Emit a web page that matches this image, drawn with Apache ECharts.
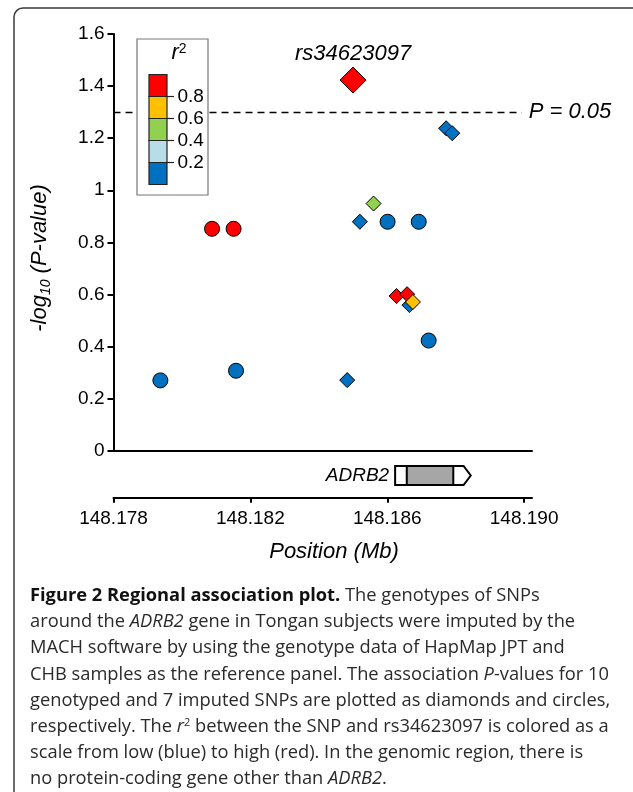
<!DOCTYPE html>
<html><head><meta charset="utf-8">
<script src="https://cdn.jsdelivr.net/npm/echarts@6/dist/echarts.min.js"></script>
<style>html,body{margin:0;padding:0;background:#fff}#c{width:633px;height:792px}</style>
</head><body><div id="c"></div><script>
// ---------- data ----------
const xTicks = [148.178, 148.182, 148.186, 148.190];
const xMin = 148.178, xMax = 148.19023;
const yMin = 0, yMax = 1.6, yStep = 0.2;

// genotyped SNPs (diamonds), in drawing order
const genoPos  = [148.18483, 148.18520, 148.18665, 148.18772, 148.18790, 148.18560, 148.18627, 148.18658, 148.18675, 148.18500];
const genoLogP = [0.271, 0.879, 0.559, 1.238, 1.219, 0.949, 0.594, 0.601, 0.571, 1.423];
const genoR2   = [0.05, 0.08, 0.10, 0.12, 0.10, 0.45, 0.85, 0.85, 0.70, 1.00];
const leadIndex = 9;
const leadName = 'rs34623097';

// imputed SNPs (circles)
const impPos  = [148.17937, 148.18088, 148.18151, 148.18158, 148.18601, 148.18692, 148.18721];
const impLogP = [0.270, 0.852, 0.852, 0.307, 0.879, 0.879, 0.423];
const impR2   = [0.05, 0.90, 0.90, 0.08, 0.10, 0.12, 0.06];

const pThreshold = 1.301;
const pThresholdEnd = 148.18993;
const pThresholdLabel = 'P = 0.05';

const r2Breaks = [0.8, 0.6, 0.4, 0.2];
const r2Colors = ['#FF0000', '#FFC000', '#92D050', '#B7DEE8', '#0070C0'];
const r2TickLabels = ['0.8', '0.6', '0.4', '0.2'];

const geneName = 'ADRB2';
const geneStart = 148.18623, cdsStart = 148.18657, cdsEnd = 148.18793, arrowBase = 148.18823, geneEnd = 148.18844;
const geneTop = 0.675, geneBottom = 0.27;

const captionLines = [
  '{b|Figure 2 Regional association plot.} The genotypes of SNPs',
  'around the {i|ADRB2} gene in Tongan subjects were imputed by the',
  'MACH software by using the genotype data of HapMap JPT and',
  'CHB samples as the reference panel. The association {i|P}-values for 10',
  'genotyped and 7 imputed SNPs are plotted as diamonds and circles,',
  'respectively. The {i|r}{sup|2} between the SNP and rs34623097 is colored as a',
  'scale from low (blue) to high (red). In the genomic region, there is',
  'no protein-coding gene other than {i|ADRB2}.'
];

// ---------- helpers ----------
function r2Color(v) {
  for (let i = 0; i < r2Breaks.length; i++) if (v >= r2Breaks[i]) return r2Colors[i];
  return r2Colors[r2Colors.length - 1];
}
const FONT = '"Liberation Sans", Arial, Helvetica, sans-serif';
const CAPFONT = '"Open Sans", "Noto Sans", sans-serif';
const CAPSIZE = 18.3;

const genoData = genoPos.map((x, i) => {
  const item = { value: [x, genoLogP[i]], itemStyle: { color: r2Color(genoR2[i]) } };
  if (i === leadIndex) {
    item.symbolSize = 26;
    item.label = { show: true, formatter: leadName, position: 'top', distance: 2,
      fontFamily: FONT, fontStyle: 'italic', fontSize: 22, color: '#000' };
  }
  return item;
});
const impData = impPos.map((x, i) => ({ value: [x, impLogP[i]], itemStyle: { color: r2Color(impR2[i]) } }));

// ---------- graphics: legend, titles, caption, frame ----------
const graphics = [];
graphics.push({ type: 'rect', shape: { x: 14, y: 8, width: 640, height: 800, r: [9, 9, 0, 0] },
  style: { fill: 'none', stroke: '#3a3a3a', lineWidth: 1.5 }, silent: true });

// legend
const lgX = 137, lgY = 39, lgW = 71, lgH = 156;
graphics.push({ type: 'rect', shape: { x: lgX, y: lgY, width: lgW, height: lgH },
  style: { fill: '#fff', stroke: '#777', lineWidth: 1.2 }, z: 10 });
graphics.push({ type: 'text', x: 179, y: 53, z: 11,
  style: { text: 'r{s|2}', align: 'center', verticalAlign: 'middle',
    fontFamily: FONT, fontStyle: 'italic', fontSize: 22, fill: '#000', lineHeight: 22,
    rich: { s: { fontFamily: FONT, fontStyle: 'normal', fontSize: 14, fill: '#000', verticalAlign: 'top', lineHeight: 14 } } } });
const barX = 149, barY = 74.5, barW = 18, segH = 22;
r2Colors.forEach((c, i) => {
  graphics.push({ type: 'rect', z: 11, shape: { x: barX, y: barY + i * segH, width: barW, height: segH },
    style: { fill: c, stroke: '#222', lineWidth: 1.2 } });
});
r2TickLabels.forEach((t, i) => {
  const yy = barY + (i + 1) * segH;
  graphics.push({ type: 'line', z: 11, shape: { x1: barX + barW, y1: yy, x2: barX + barW + 7, y2: yy },
    style: { stroke: '#222', lineWidth: 1.2 } });
  graphics.push({ type: 'text', z: 11, x: 177.5, y: yy + 0.5,
    style: { text: t, fontFamily: FONT, fontSize: 19, fill: '#000', align: 'left', verticalAlign: 'middle' } });
});

// axis titles
graphics.push({ type: 'text', x: 40, y: 258, rotation: Math.PI / 2,
  style: { text: '-log{s|10} (P-value)', align: 'center', verticalAlign: 'middle',
    fontFamily: FONT, fontStyle: 'italic', fontSize: 22, fill: '#000', lineHeight: 26,
    rich: { s: { fontFamily: FONT, fontStyle: 'italic', fontSize: 14, verticalAlign: 'bottom', lineHeight: 14, fill: '#000' } } } });
graphics.push({ type: 'text', x: 334, y: 552,
  style: { text: 'Position (Mb)', align: 'center', verticalAlign: 'middle',
    fontFamily: FONT, fontStyle: 'italic', fontSize: 22, fill: '#000' } });

// caption
captionLines.forEach((ln, i) => {
  graphics.push({ type: 'text', x: 30, y: 596 + i * 26.1,
    style: { text: ln, align: 'left', verticalAlign: 'middle', fontFamily: CAPFONT, fontSize: CAPSIZE, fill: '#2a2a2a',
      rich: {
        b: { fontFamily: CAPFONT, fontWeight: 'bold', fontSize: CAPSIZE, fill: '#111' },
        i: { fontFamily: CAPFONT, fontStyle: 'italic', fontSize: CAPSIZE, fill: '#2a2a2a' },
        sup: { fontFamily: CAPFONT, fontSize: 11, verticalAlign: 'top', lineHeight: 11, fill: '#2a2a2a' }
      } } });
});

// ---------- chart ----------
const chart = echarts.init(document.getElementById('c'), null, { renderer: 'canvas' });
const gridLeft = 113.5, gridRight = 633 - 532;
chart.setOption({
  animation: false,
  backgroundColor: '#fff',
  grid: [
    { left: gridLeft, right: gridRight, top: 34, bottom: 792 - 450.7 },
    { left: gridLeft, right: gridRight, top: 450.7, bottom: 792 - 497.7 }
  ],
  xAxis: [
    { gridIndex: 0, type: 'value', min: xMin, max: xMax, position: 'bottom',
      axisLine: { show: true, onZero: false, lineStyle: { color: '#000', width: 2 } },
      axisTick: { show: false }, axisLabel: { show: false }, splitLine: { show: false } },
    { gridIndex: 1, type: 'value', min: xMin, max: xMax, position: 'bottom',
      axisLine: { show: true, onZero: false, lineStyle: { color: '#000', width: 2 } },
      axisTick: { show: true, customValues: xTicks, length: 5, lineStyle: { color: '#000', width: 2 } },
      axisLabel: { show: true, customValues: xTicks, formatter: v => v.toFixed(3), margin: 12,
        fontFamily: FONT, fontSize: 19, color: '#000' },
      splitLine: { show: false } }
  ],
  yAxis: [
    { gridIndex: 0, type: 'value', min: yMin, max: yMax, interval: yStep,
      axisLine: { show: true, lineStyle: { color: '#000', width: 2 } },
      axisTick: { show: true, length: 6, lineStyle: { color: '#000', width: 2 } },
      axisLabel: { fontFamily: FONT, fontSize: 19, color: '#000', margin: 9 },
      splitLine: { show: false } },
    { gridIndex: 1, type: 'value', min: 0, max: 1, show: false }
  ],
  graphic: graphics,
  series: [
    { type: 'scatter', xAxisIndex: 0, yAxisIndex: 0, symbol: 'circle', symbolSize: 15, z: 3,
      itemStyle: { borderColor: '#000', borderWidth: 1, opacity: 1 }, data: impData },
    { type: 'scatter', xAxisIndex: 0, yAxisIndex: 0, symbol: 'diamond', symbolSize: 15, z: 4,
      itemStyle: { borderColor: '#000', borderWidth: 1, opacity: 1 }, data: genoData,
      markLine: { silent: true, symbol: 'none',
        lineStyle: { color: '#000', width: 1.3, type: [7, 5] },
        label: { show: true, position: 'end', distance: 7, formatter: pThresholdLabel,
          fontFamily: FONT, fontStyle: 'italic', fontSize: 22, color: '#000' },
        data: [[{ coord: [xMin, pThreshold] }, { coord: [pThresholdEnd, pThreshold] }]] } },
    { type: 'custom', xAxisIndex: 1, yAxisIndex: 1, clip: false,
      data: [[geneStart, cdsStart, cdsEnd, arrowBase, geneEnd, geneTop, geneBottom]],
      renderItem: function (params, api) {
        const top = api.coord([api.value(0), api.value(5)])[1];
        const bot = api.coord([api.value(0), api.value(6)])[1];
        const mid = (top + bot) / 2;
        const x0 = api.coord([api.value(0), 0])[0];
        const x1 = api.coord([api.value(1), 0])[0];
        const x2 = api.coord([api.value(2), 0])[0];
        const x3 = api.coord([api.value(3), 0])[0];
        const x4 = api.coord([api.value(4), 0])[0];
        return { type: 'group', children: [
          { type: 'polygon', shape: { points: [[x0, top], [x3, top], [x4, mid], [x3, bot], [x0, bot]] },
            style: { fill: '#fff', stroke: '#000', lineWidth: 2 } },
          { type: 'rect', shape: { x: x1, y: top, width: x2 - x1, height: bot - top },
            style: { fill: '#A6A6A6', stroke: '#000', lineWidth: 2 } },
          { type: 'text', x: x0 - 6, y: mid,
            style: { text: geneName, align: 'right', verticalAlign: 'middle', fontFamily: FONT,
              fontStyle: 'italic', fontSize: 19, fill: '#000' } }
        ] };
      } }
  ]
});
</script></body></html>
